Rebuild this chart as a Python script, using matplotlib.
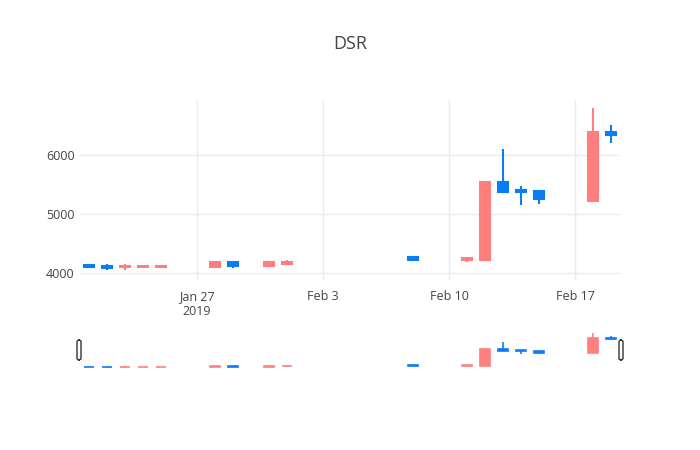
import matplotlib
matplotlib.use('Agg')
import matplotlib.pyplot as plt
import matplotlib.dates as mdates
from matplotlib.patches import FancyBboxPatch
import pandas as pd

# Daily OHLC data
dates = ['2019-01-21', '2019-01-22', '2019-01-23', '2019-01-24', '2019-01-25',
         '2019-01-28', '2019-01-29', '2019-01-31', '2019-02-01', '2019-02-08',
         '2019-02-11', '2019-02-12', '2019-02-13', '2019-02-14', '2019-02-15',
         '2019-02-18', '2019-02-19']
opens = [4120, 4110, 4085, 4090, 4090, 4085, 4180, 4110, 4150, 4260,
         4210, 4220, 5530, 5400, 5390, 5220, 6380]
highs = [4125, 4140, 4150, 4135, 4130, 4190, 4185, 4185, 4210, 4280,
         4250, 5530, 6090, 5460, 5390, 6780, 6500]
lows = [4090, 4050, 4045, 4075, 4080, 4080, 4070, 4105, 4140, 4190,
        4180, 4210, 5370, 5140, 5160, 5220, 6200]
closes = [4095, 4080, 4105, 4110, 4110, 4185, 4110, 4180, 4180, 4220,
          4240, 5530, 5370, 5370, 5240, 6390, 6330]

title = 'DSR'
x_ticks = ['2019-01-27', '2019-02-03', '2019-02-10', '2019-02-17']
x_tick_labels = ['Jan 27\n2019', 'Feb 3', 'Feb 10', 'Feb 17']
y_ticks = [4000, 5000, 6000]

inc_color = '#FF7F7F'
dec_color = '#0A7DF5'
text_color = '#444444'
grid_color = '#EBEBEB'

plt.rcParams['font.family'] = ['Open Sans', 'DejaVu Sans']

x = mdates.date2num(pd.to_datetime(dates))
xmin = mdates.date2num(pd.Timestamp('2019-01-20 12:00'))
xmax = mdates.date2num(pd.Timestamp('2019-02-19 12:00'))
ymin, ymax = 3873, 6924

fig = plt.figure(figsize=(7, 4.5), dpi=100)
W, H = 700, 450
ax = fig.add_axes([80 / W, 1 - 280 / H, 540 / W, 180 / H])
sl = fig.add_axes([80 / W, 1 - 370 / H, 540 / W, 39 / H])


def draw_candles(a, wick_lw, edge_lw):
    for xi, o, h, l, c in zip(x, opens, highs, lows, closes):
        col = inc_color if c >= o else dec_color
        a.vlines(xi, l, h, color=col, linewidth=wick_lw, zorder=3)
        a.bar(xi, abs(c - o), bottom=min(o, c), width=0.6, color=col,
              edgecolor=col, linewidth=edge_lw, zorder=3)


draw_candles(ax, 1.5, 1.5)
draw_candles(sl, 1.2, 1.2)

for a in (ax, sl):
    a.set_xlim(xmin, xmax)
    a.set_ylim(ymin, ymax)
    for s in a.spines.values():
        s.set_visible(False)

# main axes styling
ax.set_xticks(mdates.date2num(pd.to_datetime(x_ticks)))
ax.set_xticklabels(x_tick_labels)
ax.set_yticks(y_ticks)
ax.set_yticklabels([str(v) for v in y_ticks])
ax.tick_params(axis='both', length=0, labelsize=9, labelcolor=text_color)
ax.tick_params(axis='x', pad=7)
ax.tick_params(axis='y', pad=4)
ax.grid(True, color=grid_color, linewidth=1)
ax.set_axisbelow(True)

# range slider
sl.set_xticks([])
sl.set_yticks([])
for px in (79, 621):
    fig.patches.append(FancyBboxPatch(((px - 2) / W, 1 - 360 / H), 4 / W, 20 / H,
                                      boxstyle='round,pad=0,rounding_size=0.004',
                                      transform=fig.transFigure, facecolor='white',
                                      edgecolor='#333333', linewidth=1, zorder=5))

fig.text(0.5, 1 - 44 / H, title, ha='center', va='center', fontsize=13, color=text_color)

fig.savefig('out.png', dpi=100)
